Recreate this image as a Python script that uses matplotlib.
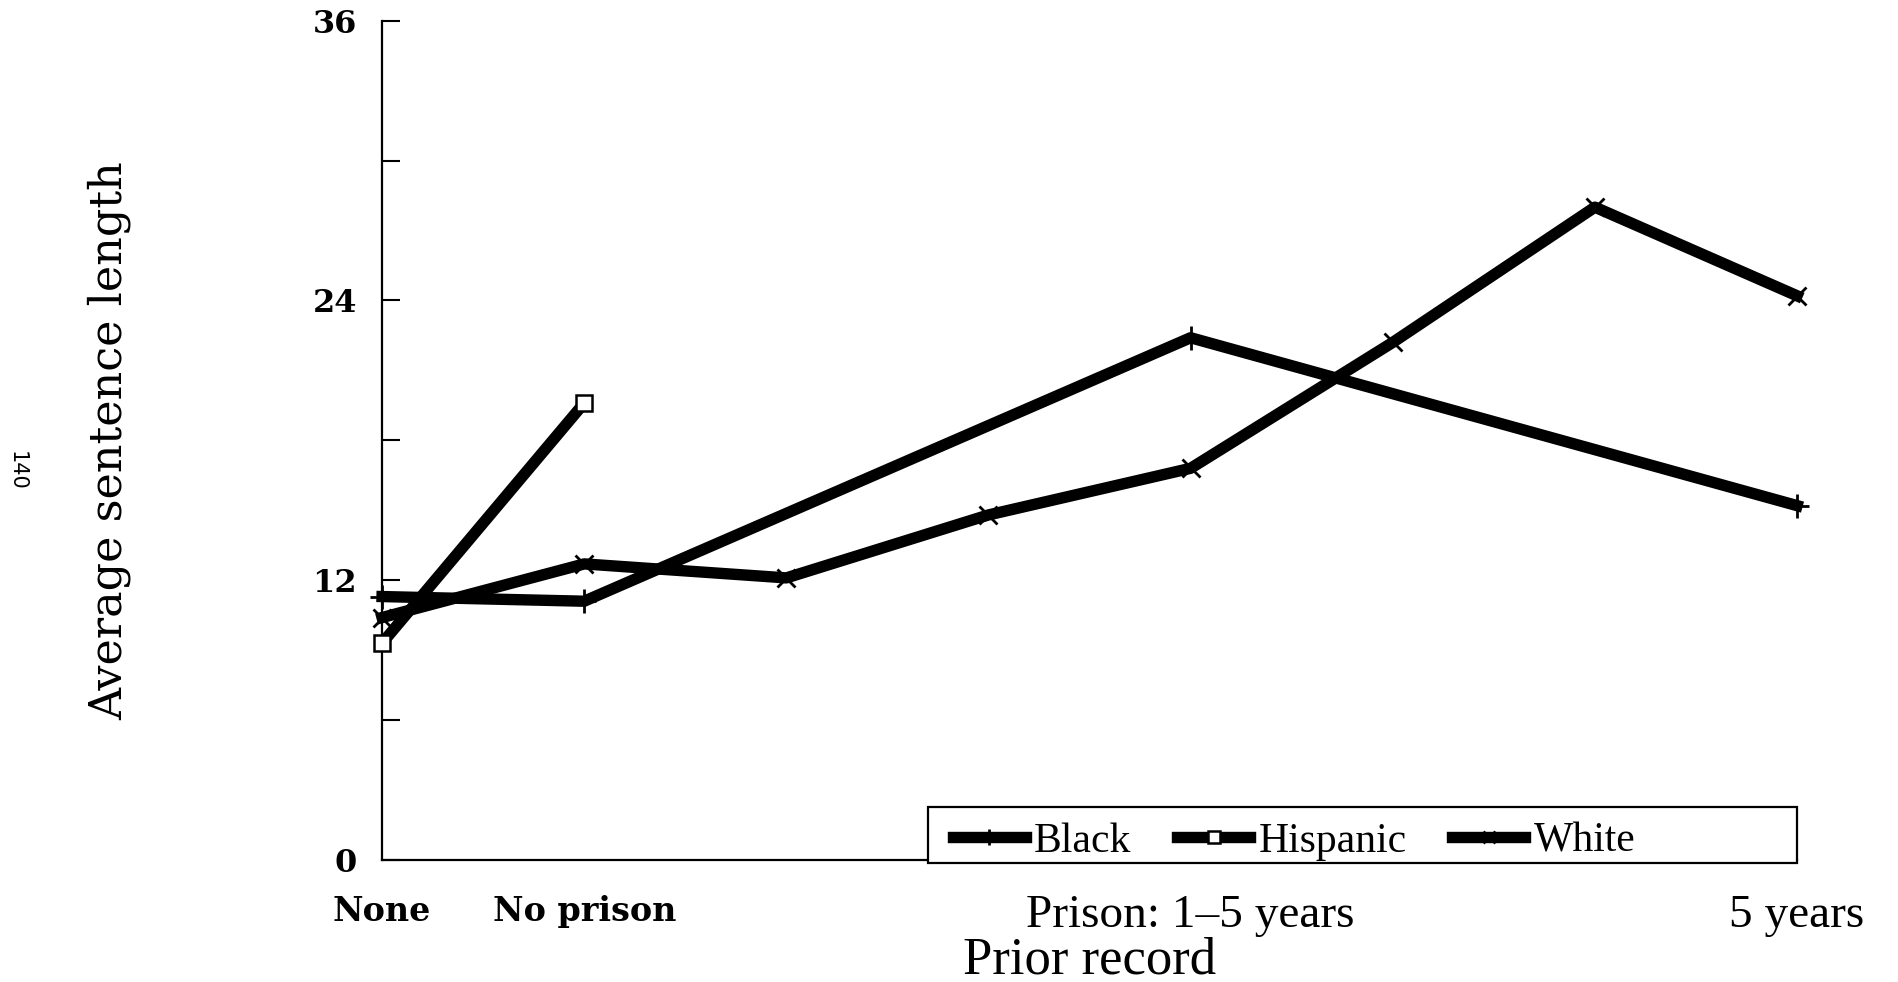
import matplotlib
matplotlib.use("Agg")
import matplotlib.pyplot as plt
from matplotlib.patches import Rectangle

# prior record categories (8 equally spaced positions, only some labelled)
tick_pos = [0, 1, 4, 7]
tick_labels = ["None", "No prison", "Prison: 1–5 years", "5 years"]

black_x = [0, 1, 4, 7]
black_y = [11.3, 11.1, 22.4, 15.2]

hisp_x = [0, 1]
hisp_y = [9.3, 19.6]

white_x = [0, 1, 2, 3, 4, 5, 6, 7]
white_y = [10.4, 12.7, 12.1, 14.8, 16.8, 22.2, 28.0, 24.2]

fig = plt.figure(figsize=(18.98, 9.82), dpi=100)
ax = fig.add_axes([0.2013, 0.1242, 0.7455, 0.8548])

lw = 8.2
ax.plot(black_x, black_y, color="black", lw=lw, marker="+", ms=17, mew=2,
        label="Black", clip_on=False, zorder=3)
ax.plot(hisp_x, hisp_y, color="black", lw=lw, marker="s", ms=12, mew=1.8,
        mfc="white", mec="black", label="Hispanic", clip_on=False, zorder=3)
ax.plot(white_x, white_y, color="black", lw=lw, marker="x", ms=13, mew=2,
        label="White", clip_on=False, zorder=3)

ax.set_xlim(0, 7)
ax.set_ylim(0, 36)

for s in ["top", "right"]:
    ax.spines[s].set_visible(False)
ax.spines["left"].set_linewidth(1.6)
ax.spines["bottom"].set_linewidth(1.6)

# y axis
ax.set_yticks([0, 12, 24, 36])
ax.set_yticks([6, 18, 30], minor=True)
ax.tick_params(axis="y", which="both", direction="in", length=13, width=1.5, pad=18)
ax.set_yticklabels(["0", "12", "24", "36"], family="DejaVu Serif",
                   fontsize=23, fontweight="bold")

# x axis
ax.set_xticks(tick_pos)
ax.set_xticklabels(tick_labels)
ax.tick_params(axis="x", length=0, pad=25)
xt = ax.get_xticklabels()
for t in xt[:2]:
    t.set_family("DejaVu Serif")
    t.set_fontweight("bold")
    t.set_fontsize(24)
for t in xt[2:]:
    t.set_family("Liberation Serif")
    t.set_fontsize(34)

ax.set_ylabel("Average sentence length", family="DejaVu Serif", fontsize=32)
ax.yaxis.label.set_va("center")
ax.yaxis.set_label_coords(-0.193, 0.5)
ax.set_xlabel("Prior record", family="Liberation Serif", fontsize=38)
ax.xaxis.label.set_va("center")
ax.xaxis.set_label_coords(0.5, -0.12)

# legend box
ax.add_patch(Rectangle((0.3855, -0.003), 0.6145, 0.066, transform=ax.transAxes,
                       fill=True, facecolor="white", edgecolor="black",
                       lw=1.6, clip_on=False, zorder=4))
leg = ax.legend(loc="center left", bbox_to_anchor=(0.3885, 0.022), ncol=3,
                frameon=False, prop={"family": "Liberation Serif", "size": 30},
                handlelength=1.75, handletextpad=0.2, columnspacing=1.1,
                borderpad=0.0, markerscale=0.7)
leg.set_zorder(5)

fig.text(0.009, 0.52, "140", rotation=270, family="DejaVu Sans", fontsize=15,
         ha="center", va="center")

fig.savefig("out.png", dpi=100)
